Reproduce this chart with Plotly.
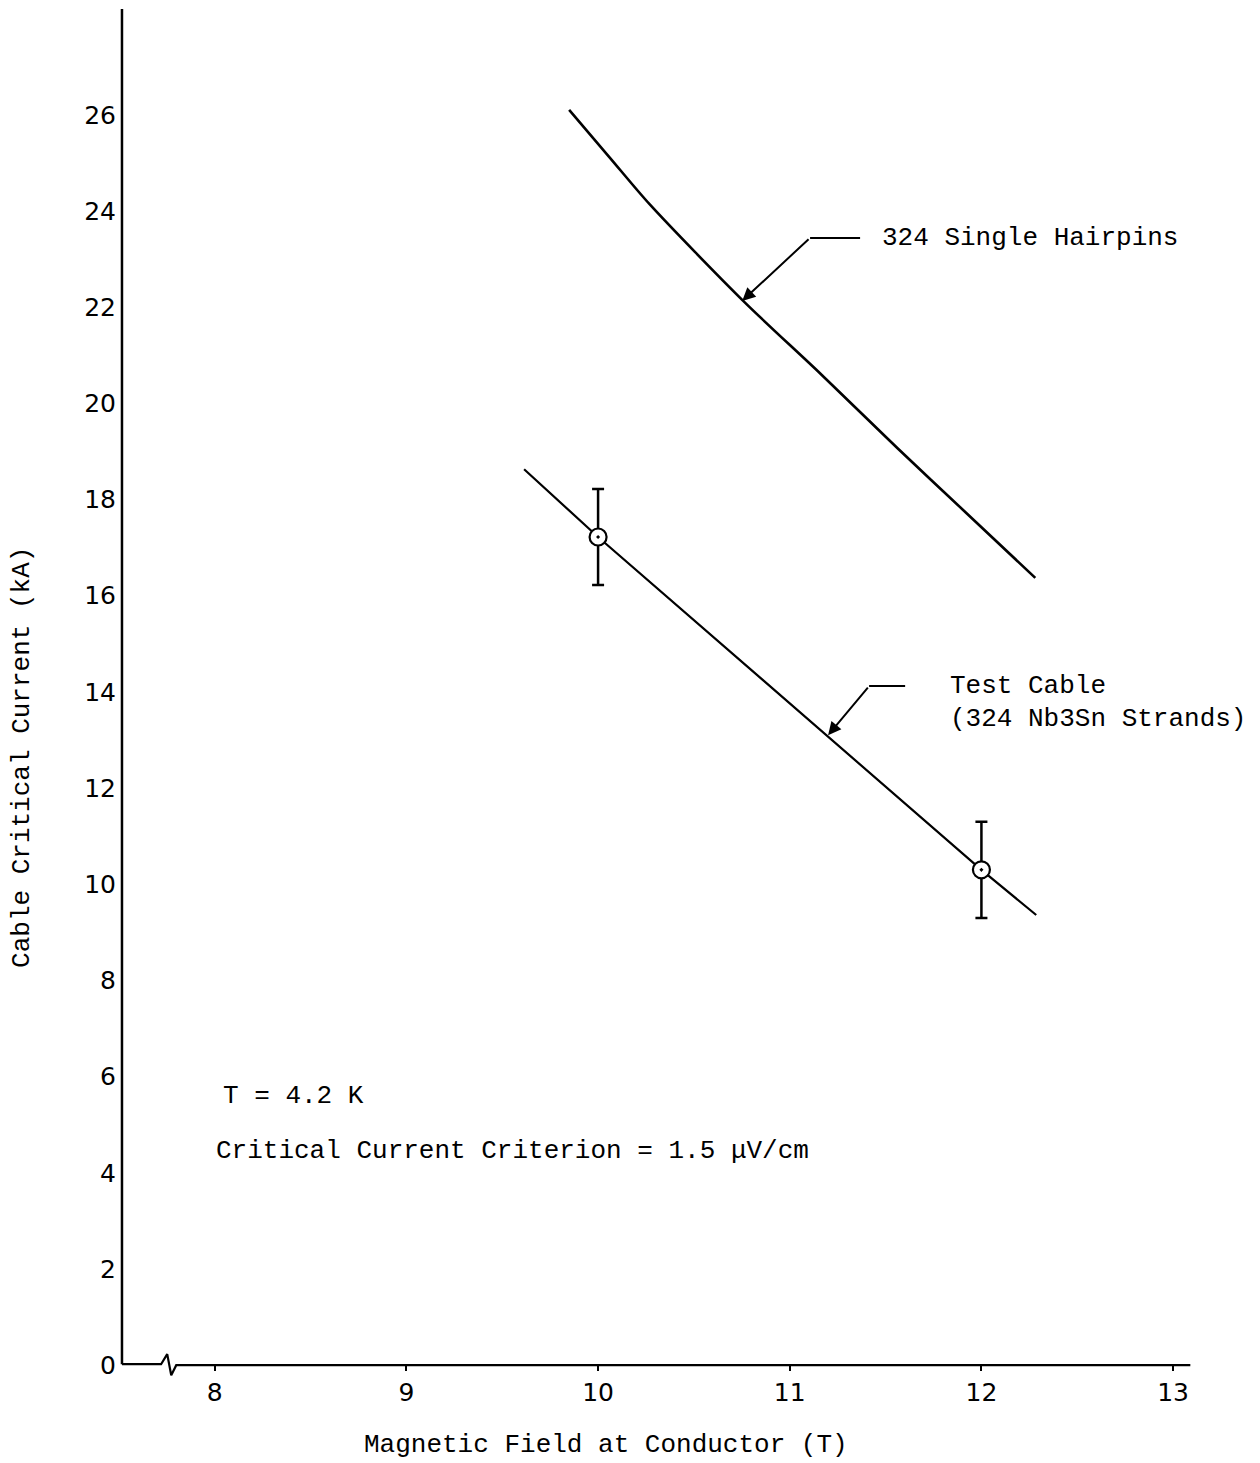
import plotly.graph_objects as go

# Data
hairpin_x = [9.849, 10.063, 10.271, 10.757, 11.159, 11.561, 11.921, 12.281]
hairpin_y = [26.10, 25.10, 24.13, 22.13, 20.62, 19.07, 17.72, 16.37]

cable_line_x = [9.614, 10.0, 12.0, 12.286]
cable_line_y = [18.63, 17.22, 10.30, 9.36]

cable_pts_x = [10.0, 12.0]
cable_pts_y = [17.22, 10.30]
cable_err = [1.0, 1.0]

y_ticks = list(range(0, 27, 2))
x_ticks = [8, 9, 10, 11, 12, 13]

# axis decoration (break on the x axis)
xaxis_line_x = [7.516, 7.72, 7.752, 7.773, 7.799, 13.09]
xaxis_line_y = [0.02, 0.02, 0.23, -0.21, 0.0, 0.0]
yaxis_line_x = [7.516, 7.516]
yaxis_line_y = [0.02, 28.2]

# leader lines
hp_tip = (10.752, 22.13)
hp_elbow = (11.106, 23.44)
hp_end = 11.367
tc_tip = (11.200, 13.10)
tc_elbow = (11.414, 14.12)
tc_end = 11.602

mono = "Liberation Mono"
fig = go.Figure()

fig.add_trace(go.Scatter(x=xaxis_line_x, y=xaxis_line_y, mode="lines",
                         line=dict(color="black", width=2.2), hoverinfo="skip"))
fig.add_trace(go.Scatter(x=yaxis_line_x, y=yaxis_line_y, mode="lines",
                         line=dict(color="black", width=2.5), hoverinfo="skip"))

fig.add_trace(go.Scatter(x=hairpin_x, y=hairpin_y, mode="lines",
                         line=dict(color="black", width=2.6, shape="spline", smoothing=0.8),
                         name="324 Single Hairpins"))
fig.add_trace(go.Scatter(x=cable_line_x, y=cable_line_y, mode="lines",
                         line=dict(color="black", width=2.2),
                         name="Test Cable"))
fig.add_trace(go.Scatter(x=cable_pts_x, y=cable_pts_y, mode="markers",
                         marker=dict(symbol="circle-dot", size=17, color="white",
                                     line=dict(color="black", width=2.2)),
                         error_y=dict(type="data", array=cable_err, visible=True,
                                      color="black", thickness=2.5, width=6)))

# leader horizontal segments
fig.add_trace(go.Scatter(x=[hp_elbow[0], hp_end], y=[hp_elbow[1], hp_elbow[1]],
                         mode="lines", line=dict(color="black", width=2), hoverinfo="skip"))
fig.add_trace(go.Scatter(x=[tc_elbow[0], tc_end], y=[tc_elbow[1], tc_elbow[1]],
                         mode="lines", line=dict(color="black", width=2), hoverinfo="skip"))

annotations = [
    dict(x=hp_tip[0], y=hp_tip[1], ax=hp_elbow[0], ay=hp_elbow[1],
         axref="x", ayref="y", xref="x", yref="y", text="", showarrow=True,
         arrowhead=2, arrowsize=1.3, arrowwidth=2, arrowcolor="black"),
    dict(x=tc_tip[0], y=tc_tip[1], ax=tc_elbow[0], ay=tc_elbow[1],
         axref="x", ayref="y", xref="x", yref="y", text="", showarrow=True,
         arrowhead=2, arrowsize=1.3, arrowwidth=2, arrowcolor="black"),
    dict(x=11.472, y=23.44, text="324 Single Hairpins", xanchor="left", yanchor="middle",
         showarrow=False, font=dict(family=mono, size=26, color="black")),
    dict(x=11.827, y=14.12, text="Test Cable", xanchor="left", yanchor="middle",
         showarrow=False, font=dict(family=mono, size=26, color="black")),
    dict(x=11.827, y=13.44, text="(324 Nb3Sn Strands)", xanchor="left", yanchor="middle",
         showarrow=False, font=dict(family=mono, size=26, color="black")),
    dict(x=8.032, y=5.59, text="T = 4.2 K", xanchor="left", yanchor="middle",
         showarrow=False, font=dict(family=mono, size=26, color="black")),
    dict(x=7.996, y=4.45, text="Critical Current Criterion = 1.5 μV/cm", xanchor="left",
         yanchor="middle", showarrow=False, font=dict(family=mono, size=26, color="black")),
    dict(xref="paper", yref="paper", x=0.4429, y=-0.0459,
         text="Magnetic Field at Conductor (T)", showarrow=False,
         xanchor="center", yanchor="middle", font=dict(family=mono, size=26, color="black")),
    dict(xref="paper", yref="paper", x=-0.0861, y=0.4549, textangle=-90,
         text="Cable Critical Current (kA)", showarrow=False,
         xanchor="center", yanchor="middle", font=dict(family=mono, size=26, color="black")),
]

fig.update_layout(
    width=1252, height=1455,
    margin=dict(l=109, r=39, t=0, b=81, autoexpand=False),
    paper_bgcolor="white", plot_bgcolor="white",
    showlegend=False,
    annotations=annotations,
    xaxis=dict(range=[7.49, 13.25], tickvals=x_ticks, ticktext=[str(v) for v in x_ticks],
               showgrid=False, zeroline=False, showline=False,
               anchor="free", position=0.35 / 28.57,
               ticks="outside", ticklen=5, tickwidth=2, tickcolor="black",
               ticklabelstandoff=0,
               tickfont=dict(family="DejaVu Sans", size=25, color="black")),
    yaxis=dict(range=[-0.35, 28.22], tickvals=y_ticks, ticktext=[str(v) for v in y_ticks],
               showgrid=False, zeroline=False, showline=False, ticks="",
               tickfont=dict(family="DejaVu Sans", size=25, color="black")),
)

fig.write_html("out.html")
